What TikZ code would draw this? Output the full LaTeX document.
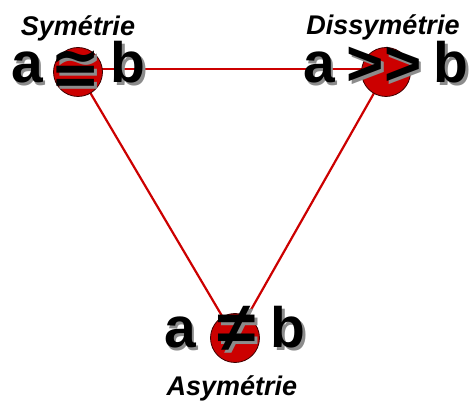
\documentclass[tikz,border=0pt]{standalone}
\usepackage{fontspec}
\setmainfont{Liberation Sans}
\newfontfamily\symfont{DejaVu Sans}
\usetikzlibrary{backgrounds}
\definecolor{rouge}{HTML}{CC0000}
\definecolor{ombre}{HTML}{8C8C8C}
% lettre avec ombre portee grise
\newcommand\lettre[4][]{%
  \node[big, #1, text=ombre, xshift=2.5pt, yshift=-2.5pt] at (#3) {#4};
  \node[big, #1] (#2) at (#3) {#4};}
\begin{document}
\begin{tikzpicture}[x=1pt, y=-1pt,
  big/.style={font=\fontsize{57}{57}\selectfont\bfseries, inner sep=0pt, anchor=base},
  titre/.style={font=\fontsize{27}{27}\selectfont\bfseries\itshape, inner sep=0pt, anchor=base},
  rond/.style={circle, minimum size=49pt, inner sep=0pt, fill=rouge, draw=black!70!rouge, line width=0.8pt},
  lien/.style={draw=rouge, line width=2.2pt}]
\useasboundingbox (0,0) rectangle (475,401);
\node[rond] (sym) at (78,72) {};
\node[rond] (dis) at (386,72) {};
\node[rond] (asy) at (235,338) {};

\begin{scope}[on background layer]
\draw[lien] ([yshift=3pt]sym.center) -- ([yshift=3pt]dis.center);
\draw[lien] (sym.center) -- (asy.center);
\draw[lien] (dis.center) -- (asy.center);
\end{scope}

\lettre{a1}{27,83}{a}
\lettre{b1}{128,83}{b}
\lettre{a2}{319,83}{a}
\lettre{b2}{451,83}{b}
\lettre{a3}{180,348}{a}
\lettre{b3}{288,348}{b}
\lettre[font=\fontsize{64}{64}\selectfont\bfseries]{s2}{384,86}{>{}>}
\lettre[font=\fontsize{70}{70}\selectfont\bfseries]{s3}{237,352}{≠}
\lettre[font=\fontsize{60}{60}\selectfont\symfont\bfseries]{s1}{76,89}{≅}

\node[titre] (t1) at (78,36) {Symétrie};
\node[titre] (t2) at (383,35) {Dissymétrie};
\node[titre] (t3) at (232,396) {Asymétrie};
\end{tikzpicture}
\end{document}
